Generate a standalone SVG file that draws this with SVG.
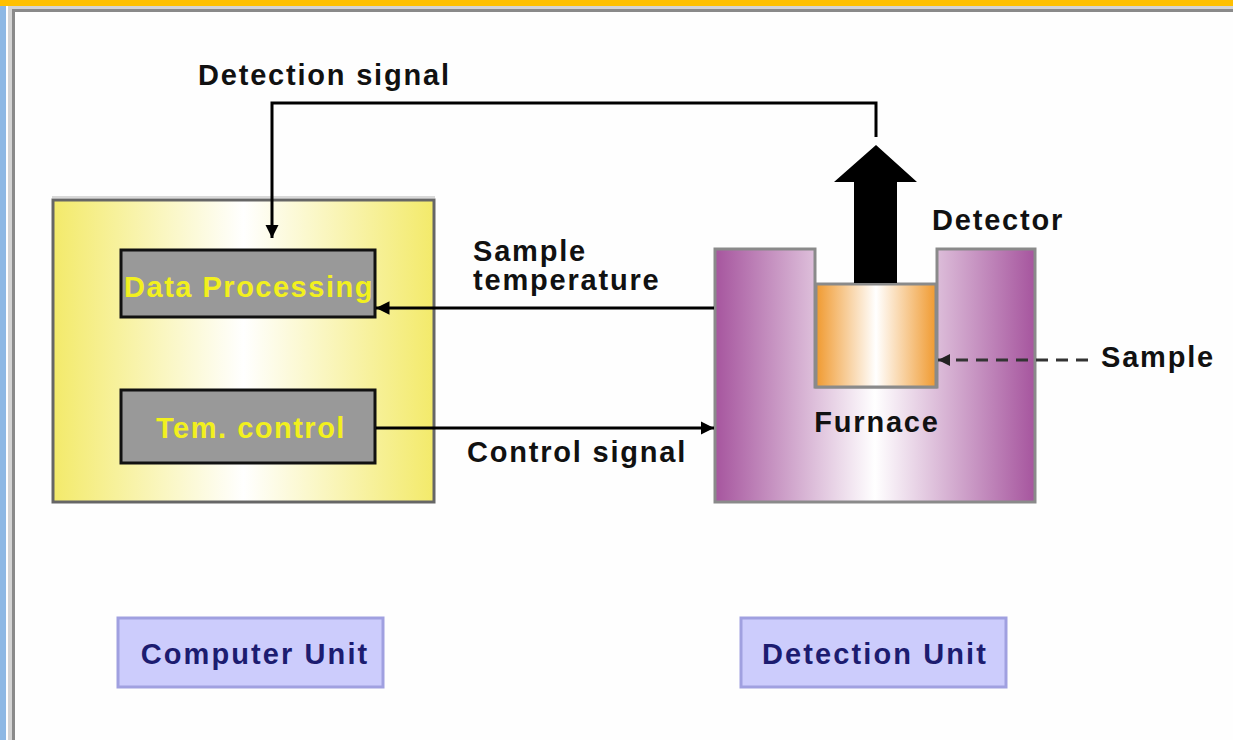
<svg xmlns="http://www.w3.org/2000/svg" width="1233" height="740" viewBox="0 0 1233 740">
<style>
  .lbl { font-family: "Liberation Sans", Arial, sans-serif; font-weight: bold; font-size: 29px; letter-spacing: 1.8px; fill: #111; }
  .yel { font-family: "Liberation Sans", Arial, sans-serif; font-weight: bold; font-size: 29px; letter-spacing: 1.5px; fill: #f2f01e; }
  .unit { font-family: "Liberation Sans", Arial, sans-serif; font-weight: bold; font-size: 29px; letter-spacing: 2.1px; fill: #1c1c70; }
  .conn { stroke: #000; stroke-width: 3; fill: none; }
  .dash { stroke: #333; stroke-width: 3; fill: none; stroke-dasharray: 12 8; }
  .ubox { fill: #ccccfc; stroke: #a0a0e0; stroke-width: 3; }
  .inner { fill: #999999; stroke: #111; stroke-width: 3; }
</style>
<defs>
  <linearGradient id="gY" x1="0" x2="1" y1="0" y2="0">
    <stop offset="0" stop-color="#f3ea6a"/>
    <stop offset="0.5" stop-color="#ffffff"/>
    <stop offset="1" stop-color="#f3ea6a"/>
  </linearGradient>
  <linearGradient id="gP" x1="0" x2="1" y1="0" y2="0">
    <stop offset="0" stop-color="#a6559e"/>
    <stop offset="0.5" stop-color="#ffffff"/>
    <stop offset="1" stop-color="#a6559e"/>
  </linearGradient>
  <linearGradient id="gO" x1="0" x2="1" y1="0" y2="0">
    <stop offset="0" stop-color="#f09a30"/>
    <stop offset="0.5" stop-color="#ffffff"/>
    <stop offset="1" stop-color="#f09a30"/>
  </linearGradient>
  <marker id="ah" viewBox="0 0 10 10" refX="10" refY="5" markerWidth="4.5" markerHeight="4.5" orient="auto" markerUnits="strokeWidth">
    <path d="M0,0 L10,5 L0,10 Z" fill="#000"/>
  </marker>
  <marker id="ahd" viewBox="0 0 10 10" refX="10" refY="5" markerWidth="4" markerHeight="4" orient="auto" markerUnits="strokeWidth">
    <path d="M0,0 L10,5 L0,10 Z" fill="#222"/>
  </marker>
</defs>

<!-- page frame -->
<rect x="0" y="0" width="1233" height="740" fill="#fefefe"/>
<rect x="0" y="0" width="1233" height="6" fill="#ffc000"/>
<rect x="0" y="6" width="6" height="734" fill="#8db8e4"/>
<rect x="8" y="6" width="1225" height="3" fill="#d4d4d4"/>
<rect x="8" y="6" width="4" height="734" fill="#d4d4d4"/>
<rect x="12" y="9" width="1221" height="3" fill="#8a8a8a"/>
<rect x="12" y="9" width="3" height="731" fill="#8a8a8a"/>

<!-- Computer unit (yellow) -->
<g id="computer">
  <line x1="52" y1="197" x2="435" y2="197" stroke="#d8d8d8" stroke-width="2"/>
  <rect x="53" y="200" width="381" height="302" fill="url(#gY)" stroke="#666" stroke-width="3"/>
</g>

<g id="data-processing">
  <rect class="inner" x="121" y="250" width="254" height="67"/>
  <text class="yel" x="249" y="297" text-anchor="middle">Data Processing</text>
</g>

<g id="tem-control">
  <rect class="inner" x="121" y="390" width="254" height="73"/>
  <text class="yel" x="251" y="438" text-anchor="middle">Tem. control</text>
</g>

<!-- Furnace -->
<g id="furnace">
  <path d="M715,249 H815 V387 H937 V249 H1035 V502 H715 Z" fill="url(#gP)" stroke="#8a8a8a" stroke-width="3"/>
  <text class="lbl" x="877" y="432" text-anchor="middle" letter-spacing="2">Furnace</text>
</g>

<g id="sample">
  <rect x="816" y="284" width="120" height="103" fill="url(#gO)" stroke="#8a8a8a" stroke-width="3"/>
</g>

<g id="detector">
  <polygon points="876,145 917,182 897,182 897,283 854,283 854,182 834,182" fill="#000"/>
  <text class="lbl" x="932" y="230">Detector</text>
</g>

<g id="computer-unit-label">
  <rect class="ubox" x="118" y="618" width="265" height="69"/>
  <text class="unit" x="255" y="664" text-anchor="middle">Computer Unit</text>
</g>

<g id="detection-unit-label">
  <rect class="ubox" x="741" y="618" width="265" height="69"/>
  <text class="unit" x="875" y="664" text-anchor="middle">Detection Unit</text>
</g>

<!-- connectors -->
<g id="connectors">
  <polyline class="conn" points="876,137 876,103 272,103 272,238" marker-end="url(#ah)"/>
  <line class="conn" x1="714" y1="308" x2="376" y2="308" marker-end="url(#ah)"/>
  <line class="conn" x1="376" y1="428" x2="714" y2="428" marker-end="url(#ah)"/>
  <line class="dash" x1="1088" y1="360" x2="938" y2="360" marker-end="url(#ahd)"/>
</g>

<!-- connector labels -->
<g id="labels">
  <text class="lbl" x="198" y="85">Detection signal</text>
  <text class="lbl" x="473" y="261">Sample</text>
  <text class="lbl" x="473" y="290">temperature</text>
  <text class="lbl" x="467" y="462">Control signal</text>
  <text class="lbl" x="1101" y="367">Sample</text>
</g>
</svg>
